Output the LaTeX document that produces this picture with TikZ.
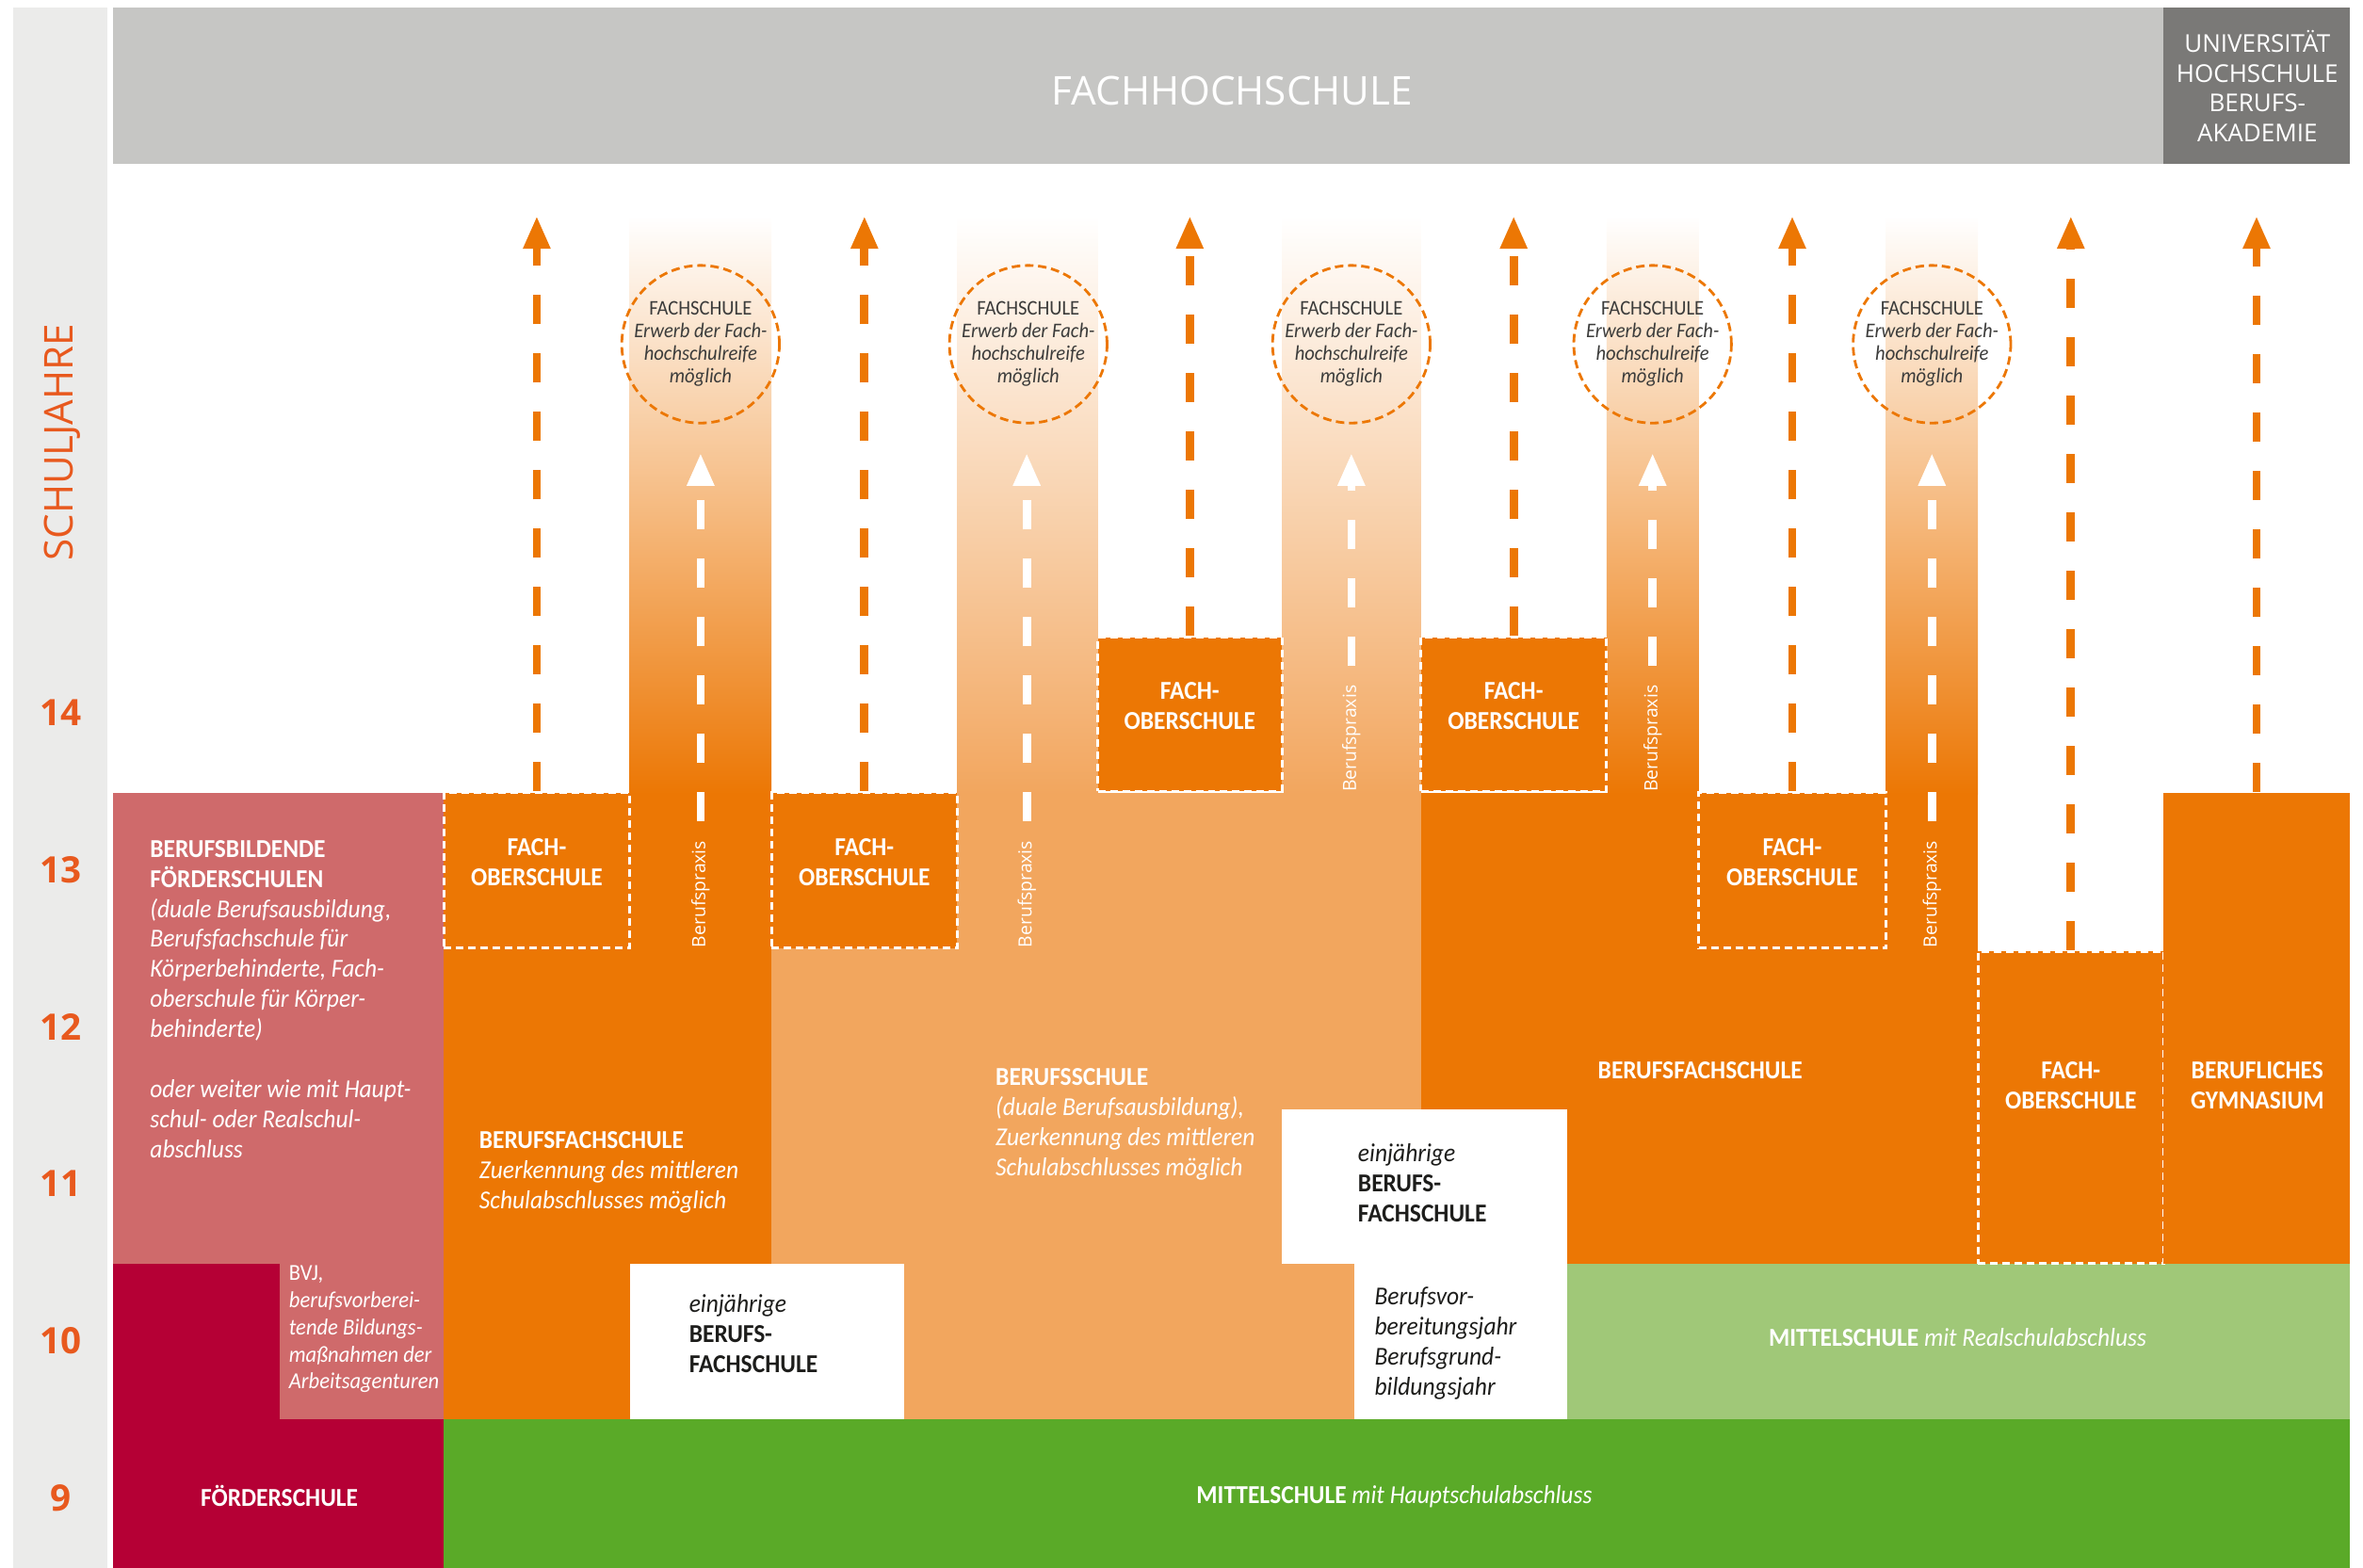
\documentclass[tikz,border=0pt]{standalone}
\usepackage{fontspec}
\setmainfont{Carlito}[FakeStretch=0.93]
\newfontfamily\opensans{Open Sans}
\usepackage{xcolor}
\usetikzlibrary{arrows.meta,positioning,fit}

\definecolor{fhgrey}{HTML}{C6C6C4}
\definecolor{unigrey}{HTML}{7A7977}
\definecolor{yeargrey}{HTML}{EBEBEA}
\definecolor{yearorange}{HTML}{E8591E}
\definecolor{darkorange}{HTML}{EC7704}
\definecolor{lightorange}{HTML}{F2A65E}
\definecolor{foerderpink}{HTML}{CF6A6B}
\definecolor{foerderred}{HTML}{B50035}
\definecolor{msgreen}{HTML}{5AAA28}
\definecolor{rsgreen}{HTML}{A0C878}
\definecolor{ringtext}{HTML}{3C3C3B}
\definecolor{boxblack}{HTML}{1D1D1B}

\tikzset{
    fosbox/.style={fill=darkorange, draw=white, line width=0.03cm, dash pattern=on 0.08cm off 0.05cm,
        inner sep=0, text=white, align=center, font=\bfseries\fontsize{7.8}{9.1}\selectfont},
    boxtext/.style={inner sep=0, text=white, align=center, font=\bfseries\fontsize{7.8}{9.1}\selectfont},
    fieldtext/.style={inner sep=0, text=white, align=left, anchor=north west, font=\fontsize{7.8}{9.1}\selectfont},
    fsring/.style={circle, draw=darkorange, line width=0.028cm, dash pattern=on 0.09cm off 0.05cm,
        minimum size=1.64cm, inner sep=0, text=ringtext, align=center, font=\fontsize{6.3}{6.8}\selectfont},
    praxis/.style={rotate=90, anchor=west, inner sep=0, text=white, font=\opensans\fontsize{5.5}{6}\selectfont},
    upflow/.style={draw=darkorange, line width=0.087cm, dash pattern=on 0.31cm off 0.31cm,
        -{Triangle[length=0.35cm,width=0.27cm]}},
    praxisflow/.style={upflow, draw=white, shorten <=0.2cm},
    yearnum/.style={text=yearorange, font=\opensans\bfseries\fontsize{11}{13}\selectfont},
    headtext/.style={inner sep=0, text=white}
}

\begin{document}
\begin{tikzpicture}[x=0.016032cm, y=-0.016032cm]
    \useasboundingbox (0,0) rectangle (1565,1038.5);

    % School years
    \fill[yeargrey] (9,5) rectangle (71,1038.5);
    \node[rotate=90, text=yearorange, font=\opensans\fontsize{12}{14}\selectfont] (sj) at (41,293) {SCHULJAHRE};
    \foreach \yr [count=\i from 0] in {9,...,14} {
        \node[yearnum] (yr\yr) at (40,{992-104*\i}) {\yr};
    }

    % Header
    \fill[fhgrey] (75,5) rectangle (1433,108.5);
    \fill[unigrey] (1433,5) rectangle (1556,108.5);
    \node[headtext, font=\opensans\fontsize{12}{14}\selectfont] (fh) at (816,60) {FACHHOCHSCHULE};
    \node[headtext, align=center, font=\opensans\fontsize{7.4}{9.1}\selectfont] (uni) at (1495,57)
        {UNIVERSITÄT\\HOCHSCHULE\\BERUFS-\\AKADEMIE};

    % Berufspraxis streams
    \foreach \xa/\xb/\col in {417/511/darkorange, 634/727/lightorange, 849/941/lightorange,
                              1064/1125/darkorange, 1249/1310/darkorange} {
        \shade[top color=white, middle color=\col!62, bottom color=\col] (\xa,143) rectangle (\xb,526);
    }

    % Foerderschulen
    \fill[foerderpink] (75,525) rectangle (294,940);
    \fill[foerderred] (75,837) rectangle (185,940);
    \fill[foerderred] (75,940) rectangle (294,1038.5);

    % Berufsfachschule, Berufsschule
    \fill[darkorange] (294,525) rectangle (511,940);
    \fill[lightorange] (511,525) rectangle (941,940);
    \fill[darkorange] (941,525) rectangle (1310,837);

    % One-year schools
    \fill[white] (417,837) rectangle (599,940);
    \fill[white] (849,735) rectangle (1038,837);
    \fill[white] (897,837) rectangle (1038,940);

    % Mittelschule
    \fill[rsgreen] (1038,837) rectangle (1556,940);
    \fill[msgreen] (294,940) rectangle (1556,1038.5);

    % Fachoberschulen and Gymnasium
    \node[fosbox, fit={(294,525) (417,628)}] (fos1) {FACH-\\OBERSCHULE};
    \node[fosbox, fit={(511,525) (634,628)}] (fos2) {FACH-\\OBERSCHULE};
    \node[fosbox, fit={(727,422) (849,524)}] (fos3) {FACH-\\OBERSCHULE};
    \node[fosbox, fit={(941,422) (1064,524)}] (fos4) {FACH-\\OBERSCHULE};
    \node[fosbox, fit={(1125,525) (1249,628)}] (fos5) {FACH-\\OBERSCHULE};
    \node[fosbox, fit={(1310,630) (1433,837)}] (fos6) {};
    \node[boxtext] (fos6txt) at (1371.5,719) {FACH-\\OBERSCHULE};
    \node[fill=darkorange, inner sep=0, fit={(1433,525) (1556,837)}] (gym) {};
    \node[boxtext] (gymtxt) at (1495,719) {BERUFLICHES\\GYMNASIUM};

    % Fachschulen
    \foreach \x [count=\i] in {464,681,895,1094.5,1279.5} {
        \node[fsring] (fs\i) at (\x,228)
            {FACHSCHULE\\\textit{Erwerb der Fach-}\\\textit{hochschulreife}\\\textit{möglich}};
    }

    % Berufspraxis
    \foreach \x/\y [count=\i] in {464/628, 680/628, 895/525, 1094.5/525, 1279.5/628} {
        \node[praxis] (bp\i) at (\x,\y) {Berufspraxis};
        \coordinate (pt\i) at (\x,300);
        \draw[praxisflow] (bp\i) -- (pt\i);
    }

    % Ways up to the Fachhochschule
    \foreach \x [count=\i] in {355.5,572.5,788,1002.5,1187,1371.5,1494.5} {
        \coordinate (up\i) at (\x,143);
    }
    \foreach \n [count=\i] in {fos1,fos2,fos3,fos4,fos5,fos6,gym} {
        \draw[upflow] (\n) -- (up\i);
    }

    % Labels
    \node[fieldtext] (bfoe) at (99,556) {\textbf{BERUFSBILDENDE}\\\textbf{FÖRDERSCHULEN}\\
        \textit{(duale Berufsausbildung,}\\\textit{Berufsfachschule für}\\\textit{Körperbehinderte, Fach-}\\
        \textit{oberschule für Körper-}\\\textit{behinderte)}\\[9.1pt]
        \textit{oder weiter wie mit Haupt-}\\\textit{schul- oder Realschul-}\\\textit{abschluss}};
    \node[fieldtext, font=\fontsize{6.9}{8.2}\selectfont] (bvj) at (191,838) {BVJ,\\\textit{berufsvorberei-}\\
        \textit{tende Bildungs-}\\\textit{maßnahmen der}\\\textit{Arbeitsagenturen}};
    \node[boxtext] (foe) at (185,991) {FÖRDERSCHULE};
    \node[fieldtext] (bfsl) at (317,749) {\textbf{BERUFSFACHSCHULE}\\\textit{Zuerkennung des mittleren}\\
        \textit{Schulabschlusses möglich}};
    \node[fieldtext] (bs) at (659,707) {\textbf{BERUFSSCHULE}\\\textit{(duale Berufsausbildung),}\\
        \textit{Zuerkennung des mittleren}\\\textit{Schulabschlusses möglich}};
    \node[fieldtext, text=boxblack] (ebfs1) at (456,857) {\textit{einjährige}\\\textbf{BERUFS-}\\\textbf{FACHSCHULE}};
    \node[fieldtext, text=boxblack] (ebfs2) at (899,757) {\textit{einjährige}\\\textbf{BERUFS-}\\\textbf{FACHSCHULE}};
    \node[fieldtext, text=boxblack] (bvbj) at (910,852) {\textit{Berufsvor-}\\\textit{bereitungsjahr}\\
        \textit{Berufsgrund-}\\\textit{bildungsjahr}};
    \node[boxtext] (bfsr) at (1126,709) {BERUFSFACHSCHULE};
    \node[boxtext, anchor=west] (msr) at (1171,886) {MITTELSCHULE \mdseries\itshape mit Realschulabschluss};
    \node[boxtext, anchor=west] (msh) at (792,991) {MITTELSCHULE \mdseries\itshape mit Hauptschulabschluss};
\end{tikzpicture}
\end{document}
